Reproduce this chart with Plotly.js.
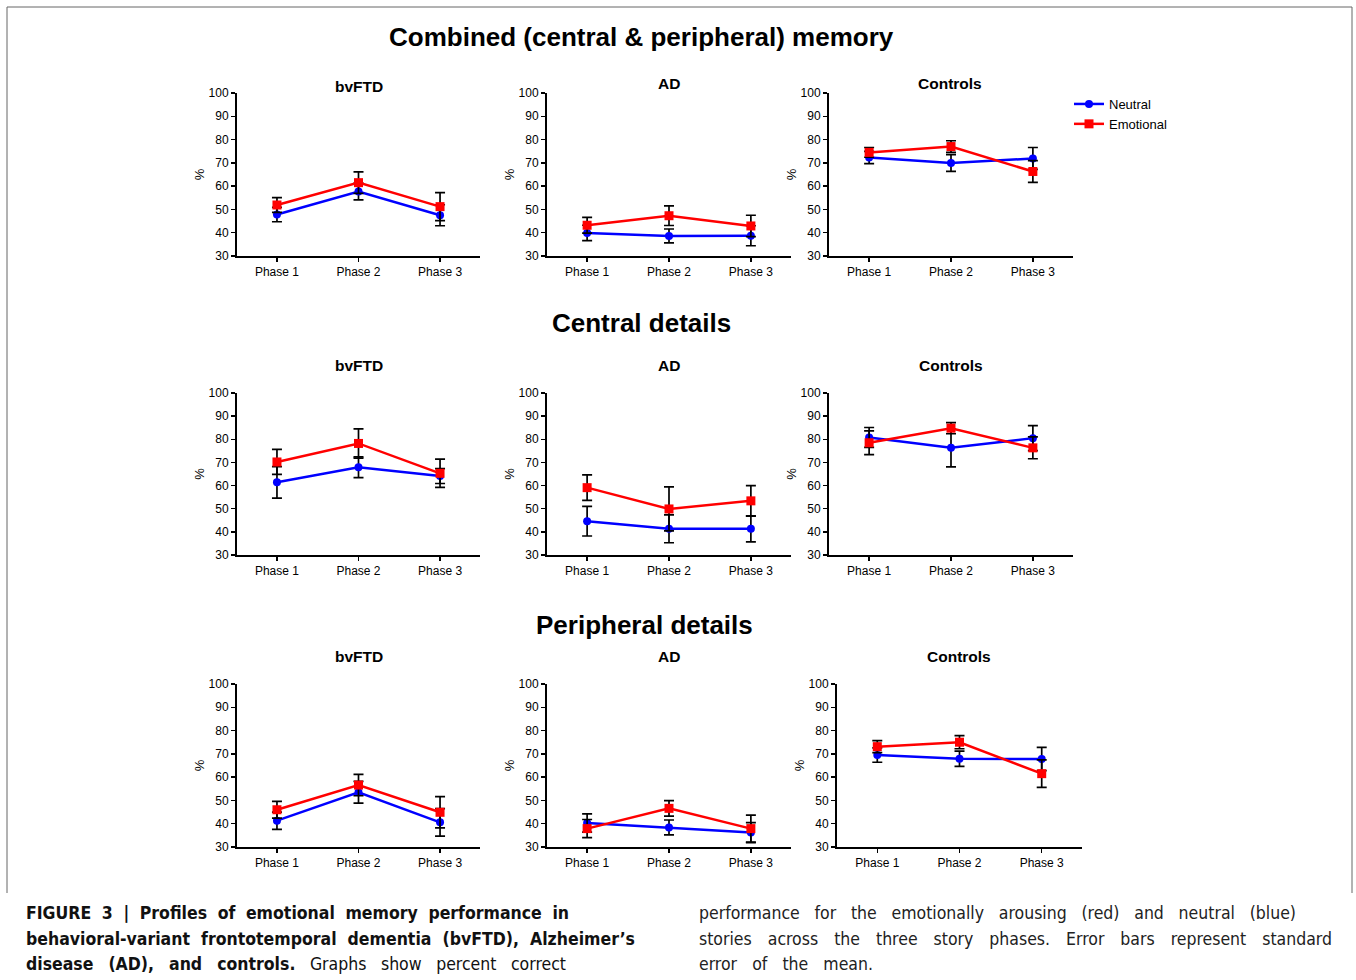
<!DOCTYPE html>
<html>
<head>
<meta charset="utf-8">
<script src="https://cdn.plot.ly/plotly-3.0.1.min.js"></script>
<style>
  html, body { margin: 0; padding: 0; background: #fff; }
  #chart { width: 1356px; height: 980px; }
</style>
</head>
<body>
<div id="chart"></div>
<script>
// ---------------- data ----------------
const phases = ['Phase 1', 'Phase 2', 'Phase 3'];
const groups = ['bvFTD', 'AD', 'Controls'];
const sections = ['Combined (central & peripheral) memory', 'Central details', 'Peripheral details'];
const seriesNames = ['Neutral', 'Emotional'];
const yTicks = [30, 40, 50, 60, 70, 80, 90, 100];

// Combined (central & peripheral) memory
const combined_bvFTD_neutral = [47.8, 57.7, 47.5];
const combined_bvFTD_neutral_se = [3.1, 3.6, 4.5];
const combined_bvFTD_emotional = [51.9, 61.5, 51.2];
const combined_bvFTD_emotional_se = [3.2, 4.6, 6.0];
const combined_AD_neutral = [39.9, 38.6, 38.7];
const combined_AD_neutral_se = [3.3, 3.0, 4.3];
const combined_AD_emotional = [43.2, 47.3, 42.9];
const combined_AD_emotional_se = [3.4, 4.2, 4.6];
const combined_Controls_neutral = [72.3, 69.9, 71.9];
const combined_Controls_neutral_se = [2.6, 3.6, 4.7];
const combined_Controls_emotional = [74.5, 77.0, 66.3];
const combined_Controls_emotional_se = [2.1, 2.5, 4.7];

// Central details
const central_bvFTD_neutral = [61.4, 67.9, 64.1];
const central_bvFTD_neutral_se = [6.8, 4.5, 3.2];
const central_bvFTD_emotional = [70.2, 78.2, 65.3];
const central_bvFTD_emotional_se = [5.4, 6.3, 6.1];
const central_AD_neutral = [44.6, 41.3, 41.3];
const central_AD_neutral_se = [6.4, 6.0, 5.6];
const central_AD_emotional = [59.1, 49.9, 53.4];
const central_AD_emotional_se = [5.5, 9.5, 6.6];
const central_Controls_neutral = [80.8, 76.3, 80.5];
const central_Controls_neutral_se = [4.3, 8.2, 5.4];
const central_Controls_emotional = [78.5, 84.8, 76.3];
const central_Controls_emotional_se = [5.1, 2.4, 4.7];

// Peripheral details
const peripheral_bvFTD_neutral = [41.3, 53.5, 40.6];
const peripheral_bvFTD_neutral_se = [3.7, 4.7, 5.9];
const peripheral_bvFTD_emotional = [46.0, 56.6, 44.9];
const peripheral_bvFTD_emotional_se = [3.6, 4.6, 6.7];
const peripheral_AD_neutral = [40.3, 38.4, 36.2];
const peripheral_AD_neutral_se = [3.9, 3.2, 4.3];
const peripheral_AD_emotional = [37.9, 46.6, 37.9];
const peripheral_AD_emotional_se = [3.9, 3.3, 5.8];
const peripheral_Controls_neutral = [69.5, 67.9, 67.8];
const peripheral_Controls_neutral_se = [3.1, 3.3, 5.0];
const peripheral_Controls_emotional = [73.1, 75.0, 61.5];
const peripheral_Controls_emotional_se = [2.6, 2.8, 5.9];

const captionLeft = [
  {bold: 'FIGURE 3 | Profiles of emotional memory performance in', normal: ''},
  {bold: 'behavioral-variant frontotemporal dementia (bvFTD), Alzheimer\u2019s', normal: ''},
  {bold: 'disease (AD), and controls.', normal: ' Graphs show percent correct'}
];
const captionRight = [
  'performance for the emotionally arousing (red) and neutral (blue)',
  'stories across the three story phases. Error bars represent standard',
  'error of the mean.'
];

// ---------------- layout helpers ----------------
const W = 1356, H = 980;
const px = x => x / W;
const py = y => (H - y) / H;
const FONT = '"Liberation Sans", Arial, Helvetica, sans-serif';
const CAPFONT = '"Liberation Sans Narrow", "Arial Narrow", "DejaVu Sans Condensed", "Liberation Sans", sans-serif';

const panelX = [
  [[237, 480], [547, 791], [829, 1073]],
  [[237, 480], [547, 791], [829, 1073]],
  [[237, 480], [547, 791], [837, 1082]]
];
const panelY = [[93, 256], [393, 555], [684, 847]];
const titlePos = [
  [[359, 86], [669, 83], [950, 83]],
  [[359, 365], [669, 365], [951, 365]],
  [[359, 657], [669, 657], [959, 657]]
];
const sectionPos = [[641, 37], [641, 323], [644, 625]];

const dataBySection = [
  [[combined_bvFTD_neutral, combined_bvFTD_neutral_se, combined_bvFTD_emotional, combined_bvFTD_emotional_se],
   [combined_AD_neutral, combined_AD_neutral_se, combined_AD_emotional, combined_AD_emotional_se],
   [combined_Controls_neutral, combined_Controls_neutral_se, combined_Controls_emotional, combined_Controls_emotional_se]],
  [[central_bvFTD_neutral, central_bvFTD_neutral_se, central_bvFTD_emotional, central_bvFTD_emotional_se],
   [central_AD_neutral, central_AD_neutral_se, central_AD_emotional, central_AD_emotional_se],
   [central_Controls_neutral, central_Controls_neutral_se, central_Controls_emotional, central_Controls_emotional_se]],
  [[peripheral_bvFTD_neutral, peripheral_bvFTD_neutral_se, peripheral_bvFTD_emotional, peripheral_bvFTD_emotional_se],
   [peripheral_AD_neutral, peripheral_AD_neutral_se, peripheral_AD_emotional, peripheral_AD_emotional_se],
   [peripheral_Controls_neutral, peripheral_Controls_neutral_se, peripheral_Controls_emotional, peripheral_Controls_emotional_se]]
];

const traces = [];
const layout = {
  width: W, height: H,
  margin: {l: 0, r: 0, t: 0, b: 0},
  paper_bgcolor: '#fff', plot_bgcolor: 'rgba(0,0,0,0)',
  font: {family: FONT, size: 12, color: '#000'},
  showlegend: true,
  legend: {
    x: px(1069), y: py(89), xanchor: 'left', yanchor: 'top',
    font: {family: FONT, size: 13, color: '#000'},
    bgcolor: 'rgba(0,0,0,0)', itemwidth: 30, tracegroupgap: 0
  },
  annotations: [],
  shapes: [{
    type: 'path', xref: 'paper', yref: 'paper',
    path: `M ${px(7)},${py(893)} L ${px(7)},${py(7)} L ${px(1352)},${py(7)} L ${px(1352)},${py(893)}`,
    line: {color: '#666', width: 1}
  }]
};

const colors = ['#0000ff', '#ff0000'];
const symbols = ['circle', 'square'];

for (let r = 0; r < 3; r++) {
  for (let c = 0; c < 3; c++) {
    const i = r * 3 + c + 1;
    const xk = i === 1 ? 'xaxis' : 'xaxis' + i;
    const yk = i === 1 ? 'yaxis' : 'yaxis' + i;
    const xa = i === 1 ? 'x' : 'x' + i;
    const ya = i === 1 ? 'y' : 'y' + i;
    const [xl, xr] = panelX[r][c];
    const [yt, yb] = panelY[r];
    layout[xk] = {
      domain: [px(xl), px(xr)], anchor: ya,
      type: 'category', categoryorder: 'array', categoryarray: phases,
      range: [-0.49, 2.49], showgrid: false, zeroline: false,
      showline: true, linecolor: '#000', linewidth: 2,
      ticks: 'outside', ticklen: 4, tickwidth: 1.5, tickcolor: '#000',
      tickfont: {family: FONT, size: 12, color: '#000'}, fixedrange: true
    };
    layout[yk] = {
      domain: [py(yb), py(yt)], anchor: xa,
      range: [30, 100], tickvals: yTicks, showgrid: false, zeroline: false,
      showline: true, linecolor: '#000', linewidth: 2,
      ticks: 'outside', ticklen: 4, tickwidth: 1.5, tickcolor: '#000',
      tickfont: {family: FONT, size: 12, color: '#000'},
      title: {text: '%', font: {family: FONT, size: 13, color: '#000'}, standoff: 1},
      fixedrange: true
    };
    const d = dataBySection[r][c];
    for (let s = 0; s < 2; s++) {
      traces.push({
        type: 'scatter', mode: 'lines+markers',
        x: phases, y: d[s * 2], xaxis: xa, yaxis: ya,
        name: seriesNames[s], legendgroup: seriesNames[s],
        showlegend: r === 0 && c === 0,
        line: {color: colors[s], width: 2.5},
        marker: {color: colors[s], symbol: symbols[s], size: s === 0 ? 8 : 9},
        error_y: {type: 'data', array: d[s * 2 + 1], visible: true, color: '#000', thickness: 1.7, width: 5},
        cliponaxis: false, hoverinfo: 'x+y+name'
      });
    }
    layout.annotations.push({
      xref: 'paper', yref: 'paper', x: px(titlePos[r][c][0]), y: py(titlePos[r][c][1]),
      xanchor: 'center', yanchor: 'middle', showarrow: false,
      text: '<b>' + groups[c] + '</b>', font: {family: FONT, size: 15.5, color: '#000'}
    });
  }
  layout.annotations.push({
    xref: 'paper', yref: 'paper', x: px(sectionPos[r][0]), y: py(sectionPos[r][1]),
    xanchor: 'center', yanchor: 'middle', showarrow: false,
    text: '<b>' + sections[r] + '</b>', font: {family: FONT, size: 26, color: '#000'}
  });
}

// ---------------- caption (justified via word-spacing) ----------------
const CAPSIZE = 17.5;
const ctx = document.createElement('canvas').getContext('2d');
function measure(txt, bold) {
  ctx.font = (bold ? 'bold ' : '') + CAPSIZE + 'px ' + CAPFONT;
  return ctx.measureText(txt).width;
}
function justified(boldPart, normalPart, target) {
  const nat = measure(boldPart, true) + measure(normalPart, false);
  const spaces = ((boldPart + normalPart).match(/ /g) || []).length;
  const ws = spaces ? (target - nat) / spaces : 0;
  let inner = '';
  if (boldPart) inner += '<b>' + boldPart + '</b>';
  if (normalPart) inner += normalPart;
  return '<span style="word-spacing:' + ws.toFixed(2) + 'px">' + inner + '</span>';
}
const leftTargets = [543, 609, 540];
const rightTargets = [597, 633, 174];
const lineY = [913, 939, 964];
for (let k = 0; k < 3; k++) {
  layout.annotations.push({
    xref: 'paper', yref: 'paper', x: px(24), y: py(lineY[k]),
    xanchor: 'left', yanchor: 'middle', showarrow: false, align: 'left',
    text: justified(captionLeft[k].bold, captionLeft[k].normal, leftTargets[k]),
    font: {family: CAPFONT, size: CAPSIZE, color: '#111'}
  });
  layout.annotations.push({
    xref: 'paper', yref: 'paper', x: px(697), y: py(lineY[k]),
    xanchor: 'left', yanchor: 'middle', showarrow: false, align: 'left',
    text: justified('', captionRight[k], rightTargets[k]),
    font: {family: CAPFONT, size: CAPSIZE, color: '#222'}
  });
}

Plotly.newPlot('chart', traces, layout, {displayModeBar: false, staticPlot: true});
</script>
</body>
</html>
